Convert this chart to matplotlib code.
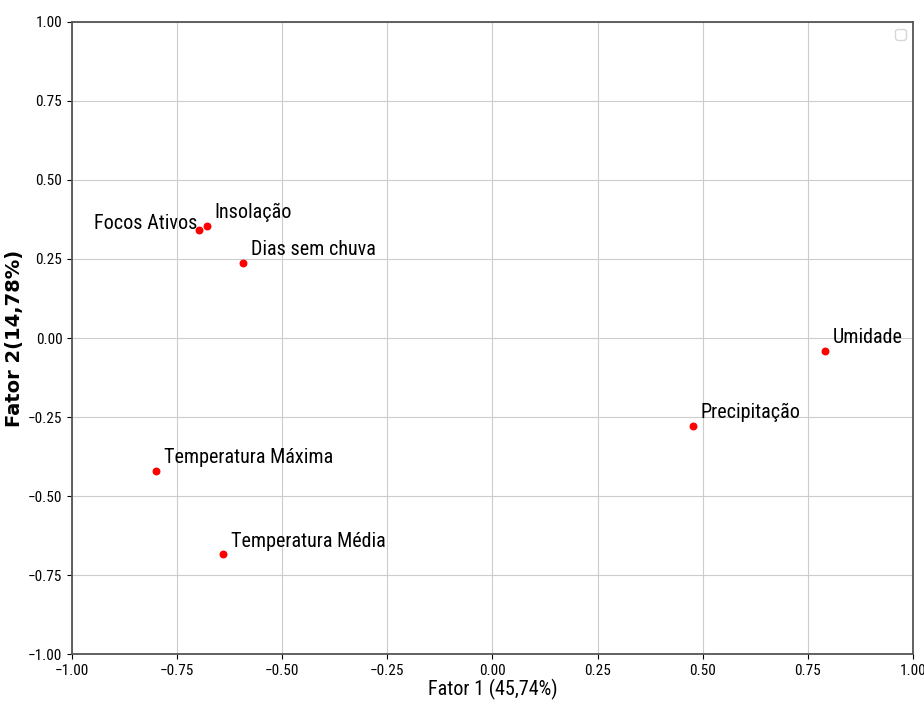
import numpy as np
import matplotlib.pyplot as plt
from matplotlib import font_manager

variaveis = ['Focos Ativos', 'Insolação', 'Dias sem chuva', 'Umidade',
             'Precipitação', 'Temperatura Máxima', 'Temperatura Média']
fator1 = [-0.698, -0.679, -0.593, 0.791, 0.477, -0.800, -0.641]
fator2 = [0.342, 0.354, 0.237, -0.041, -0.278, -0.421, -0.684]

# narrow sans-serif if one is installed, otherwise condensed DejaVu
instaladas = {f.name for f in font_manager.fontManager.ttflist}
for fam in ['Liberation Sans Narrow', 'Roboto Condensed', 'DejaVu Sans']:
    if fam in instaladas:
        plt.rcParams['font.family'] = fam
        break
plt.rcParams['font.stretch'] = 'condensed'

fig, ax = plt.subplots(figsize=(9.24, 7.02), dpi=100)
fig.subplots_adjust(left=0.078, right=0.988, top=0.969, bottom=0.068)

ax.scatter(fator1, fator2, color='red', s=22, zorder=3)
for nome, x, y in zip(variaveis, fator1, fator2):
    if nome == 'Focos Ativos':
        ax.text(x - 0.005, y - 0.01, nome, ha='right', va='bottom', fontsize=14.5)
    else:
        ax.text(x + 0.018, y + 0.012, nome, ha='left', va='bottom', fontsize=14.5)

ax.set_xlim(-1, 1)
ax.set_ylim(-1, 1)
ticks = np.arange(-1, 1.01, 0.25)
ax.set_xticks(ticks)
ax.set_yticks(ticks)
ax.tick_params(labelsize=11)
ax.set_xlabel('Fator 1 (45,74%)', fontsize=14.5, labelpad=1)
ax.set_ylabel('Fator 2(14,78%)', fontsize=14, family='DejaVu Sans',
              stretch='normal', fontweight='semibold', labelpad=3)
for spine in ax.spines.values():
    spine.set_color('#555555')
    spine.set_linewidth(1.3)
ax.grid(True, color='#cccccc')
ax.legend()

fig.savefig('out.png', dpi=100)
